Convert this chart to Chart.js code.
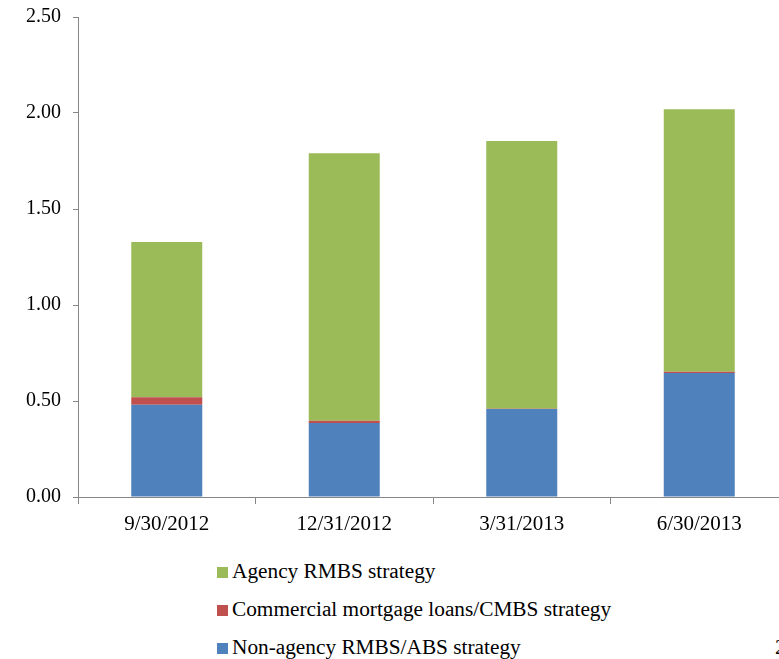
<!DOCTYPE html>
<html>
<head>
<meta charset="utf-8">
<script src="https://cdn.jsdelivr.net/npm/chart.js@4/dist/chart.umd.min.js"></script>
<style>
  html, body { margin: 0; padding: 0; background: #fff; overflow: hidden; width: 779px; height: 659px; }
  #wrap { position: absolute; left: 0; top: 0; width: 790px; height: 545px; }
  #legend { position: absolute; left: 217px; top: 552px; font-family: "Liberation Serif", "Times New Roman", serif; font-size: 21.3px; color: #000; }
  .row { height: 38px; line-height: 38px; white-space: nowrap; }
  .sw { display: inline-block; width: 11px; height: 11px; margin-right: 4px; vertical-align: 0px; }
  #pg { position: absolute; left: 775px; top: 635px; font-family: "Liberation Serif", serif; font-size: 21px; }
</style>
</head>
<body>
<div id="wrap"><canvas id="c"></canvas></div>
<div id="legend"></div>
<div id="pg">2</div>
<script>
const categories = ["9/30/2012", "12/31/2012", "3/31/2013", "6/30/2013"];
const nonAgency = [0.48, 0.385, 0.458, 0.646];
const commercial = [0.04, 0.012, 0.002, 0.006];
const agency = [0.808, 1.393, 1.394, 1.368];
const seriesNames = ["Non-agency RMBS/ABS strategy", "Commercial mortgage loans/CMBS strategy", "Agency RMBS strategy"];
const seriesColors = ["#4F81BD", "#C0504D", "#9BBB59"];
const yTicks = [0, 0.5, 1.0, 1.5, 2.0, 2.5];

const axisColor = "#868686";
const yFont = { family: "'Liberation Serif', 'Times New Roman', serif", size: 20 };
const xFont = { family: "'Liberation Serif', 'Times New Roman', serif", size: 21 };

const ctx = document.getElementById('c');
new Chart(ctx, {
  type: 'bar',
  data: {
    labels: categories,
    datasets: [nonAgency, commercial, agency].map((d, i) => ({
      label: seriesNames[i],
      data: d,
      backgroundColor: seriesColors[i],
      borderWidth: 0,
      categoryPercentage: 0.8,
      barPercentage: 0.5
    }))
  },
  options: {
    responsive: true,
    maintainAspectRatio: false,
    animation: false,
    devicePixelRatio: 1,
    layout: { padding: { top: 17, right: 2, left: 0, bottom: 0 } },
    plugins: { legend: { display: false }, tooltip: { enabled: false } },
    scales: {
      x: {
        stacked: true,
        grid: { display: true, drawOnChartArea: false, drawTicks: true, tickLength: 7, color: axisColor, offset: true },
        border: { display: true, color: axisColor, width: 1 },
        ticks: { color: '#000', font: xFont, padding: 8, maxRotation: 0 },
        afterFit: s => { s.height = 48; s.paddingLeft = 0; s.paddingRight = 0; }
      },
      y: {
        stacked: true,
        min: 0, max: 2.5,
        afterBuildTicks: s => { s.ticks = yTicks.map(v => ({ value: v })); },
        grid: { display: true, drawOnChartArea: false, drawTicks: true, tickLength: 5, color: axisColor },
        border: { display: true, color: axisColor, width: 1 },
        ticks: { color: '#000', font: yFont, padding: 12, callback: v => Number(v).toFixed(2) },
        afterFit: s => { s.width = 78; s.paddingTop = 0; s.paddingBottom = 0; }
      }
    }
  }
});

const leg = document.getElementById('legend');
[2, 1, 0].forEach(i => {
  const r = document.createElement('div');
  r.className = 'row';
  const sw = document.createElement('span');
  sw.className = 'sw';
  sw.style.background = seriesColors[i];
  r.appendChild(sw);
  r.appendChild(document.createTextNode(seriesNames[i]));
  leg.appendChild(r);
});
</script>
</body>
</html>
